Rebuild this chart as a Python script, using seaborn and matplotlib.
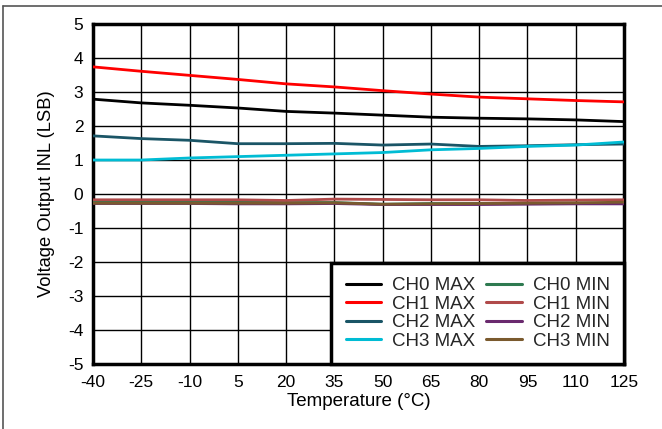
import matplotlib
matplotlib.use("Agg")
import matplotlib.pyplot as plt
import matplotlib.lines as mlines
import seaborn as sns
import pandas as pd

temps = [-40, -25, -10, 5, 20, 35, 50, 65, 80, 95, 110, 125]
ch0_max = [2.79, 2.68, 2.61, 2.53, 2.43, 2.38, 2.32, 2.26, 2.23, 2.21, 2.18, 2.13]
ch1_max = [3.74, 3.61, 3.49, 3.37, 3.24, 3.15, 3.04, 2.94, 2.85, 2.80, 2.75, 2.71]
ch2_max = [1.71, 1.63, 1.58, 1.48, 1.48, 1.49, 1.44, 1.47, 1.40, 1.42, 1.45, 1.47]
ch3_max = [1.00, 1.00, 1.06, 1.10, 1.14, 1.18, 1.22, 1.30, 1.34, 1.40, 1.44, 1.53]
ch0_min = [-0.23, -0.23, -0.23, -0.24, -0.25, -0.25, -0.30, -0.28, -0.28, -0.27, -0.27, -0.28]
ch1_min = [-0.17, -0.17, -0.17, -0.17, -0.19, -0.15, -0.16, -0.17, -0.17, -0.19, -0.18, -0.17]
ch2_min = [-0.28, -0.28, -0.28, -0.29, -0.29, -0.28, -0.31, -0.31, -0.31, -0.30, -0.29, -0.29]
ch3_min = [-0.27, -0.27, -0.27, -0.27, -0.27, -0.26, -0.30, -0.29, -0.28, -0.27, -0.26, -0.24]

series_names = ["CH0 MAX", "CH1 MAX", "CH2 MAX", "CH3 MAX",
                "CH0 MIN", "CH1 MIN", "CH2 MIN", "CH3 MIN"]
series_vals = [ch0_max, ch1_max, ch2_max, ch3_max, ch0_min, ch1_min, ch2_min, ch3_min]
colors = ["#000000", "#FF0000", "#1A5566", "#00BCD4",
          "#2E7A50", "#B04A4A", "#6A2A6E", "#7A5A2E"]

rows = []
for name, vals in zip(series_names, series_vals):
    for t, v in zip(temps, vals):
        rows.append({"Temperature": t, "INL": v, "Series": name})
df = pd.DataFrame(rows)

sns.set_style("white")
plt.rcParams['font.family'] = ['Liberation Sans', 'DejaVu Sans']

fig = plt.figure(figsize=(6.62, 4.29), dpi=100)
ax = fig.add_axes([0.1405, 0.1515, 0.802, 0.7925])

palette = dict(zip(series_names, colors))
sns.lineplot(data=df, x="Temperature", y="INL", hue="Series", hue_order=series_names,
             palette=palette, linewidth=2, ax=ax, legend=False, zorder=3)

ax.set_xlim(-40, 125)
ax.set_ylim(-5, 5)
ax.set_xticks(temps)
ax.set_xticklabels([str(t) for t in temps])
ax.set_yticks(range(-5, 6))
ax.set_yticklabels([str(v) for v in range(-5, 6)])
ax.grid(True, color="black", linewidth=1.0)
ax.set_axisbelow(True)
ax.tick_params(axis="both", length=0, labelsize=12.5, colors="black")
ax.tick_params(axis="y", pad=7)
ax.tick_params(axis="x", pad=8)
for s in ax.spines.values():
    s.set_visible(True)
    s.set_color("black")
    s.set_linewidth(2.5)

ax.set_xlabel("Temperature (°C)", fontsize=13.5, labelpad=2, color="black")
ax.set_ylabel("Voltage Output INL (LSB)", fontsize=13.2, labelpad=9, color="black")

handles = [mlines.Line2D([], [], color=c, linewidth=2.2) for c in colors]
leg = ax.legend(handles, series_names, ncol=2, loc="lower right", fontsize=13.5,
                frameon=True, fancybox=False, framealpha=1, edgecolor="black",
                borderaxespad=0, handlelength=1.9, handletextpad=0.6,
                columnspacing=0.55, labelspacing=0.08, borderpad=0.75)
leg.get_frame().set_linewidth(2.5)
leg.set_zorder(5)

# outer frame lines (top and left)
fig.add_artist(mlines.Line2D([0.004, 0.004], [0, 0.986], color="#555555", linewidth=1.2,
                             transform=fig.transFigure))
fig.add_artist(mlines.Line2D([0.004, 1], [0.986, 0.986], color="#555555", linewidth=1.2,
                             transform=fig.transFigure))

fig.savefig("out.png", dpi=100)
